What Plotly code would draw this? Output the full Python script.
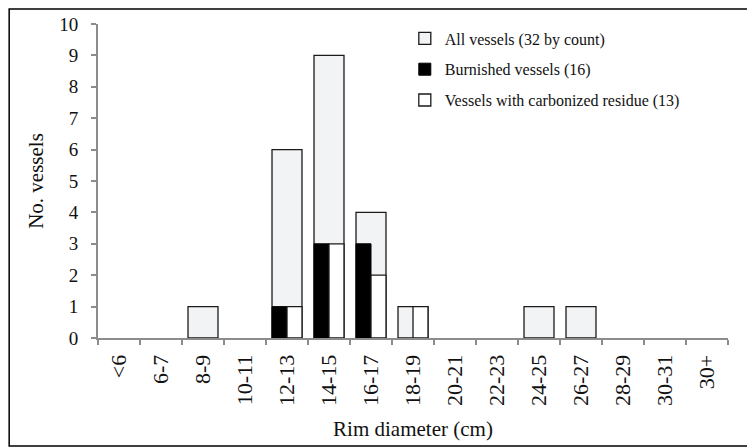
"""Rim diameter histogram of vessels, overlaid subgroup bars."""

import plotly.graph_objects as go

categories = ["<6", "6-7", "8-9", "10-11", "12-13", "14-15", "16-17", "18-19",
              "20-21", "22-23", "24-25", "26-27", "28-29", "30-31", "30+"]
all_vessels = [0, 0, 1, 0, 6, 9, 4, 1, 0, 0, 1, 1, 0, 0, 0]
burnished = [0, 0, 0, 0, 1, 3, 3, 0, 0, 0, 0, 0, 0, 0, 0]
carbonized = [0, 0, 0, 0, 1, 3, 2, 1, 0, 0, 0, 0, 0, 0, 0]

FONT = "Liberation Serif, Times New Roman, serif"
AXIS = "#8c8c8c"


def nz(values):
    return [v if v else None for v in values]


fig = go.Figure()
fig.add_trace(go.Bar(
    x=categories, y=nz(all_vessels), name="All vessels (32 by count)",
    width=0.714, offset=-0.357, legendgroup="a",
    marker=dict(color="#f2f3f5", line=dict(color="#1a1a1a", width=1.3)),
))
fig.add_trace(go.Bar(
    x=categories, y=nz(burnished), name="Burnished vessels (16)",
    width=0.357, offset=-0.357, legendgroup="b",
    marker=dict(color="#000000", line=dict(color="#000000", width=1)),
))
fig.add_trace(go.Bar(
    x=categories, y=nz(carbonized), name="Vessels with carbonized residue (13)",
    width=0.357, offset=0.0, legendgroup="c",
    marker=dict(color="#ffffff", line=dict(color="#1a1a1a", width=1.3)),
))

# the page body has an 8px margin, so the figure is a bit smaller than the window
fig.update_layout(
    width=747, height=440,
    margin=dict(l=90, r=27, t=16, b=110, autoexpand=False),
    barmode="overlay",
    plot_bgcolor="white", paper_bgcolor="white",
    font=dict(family=FONT, size=19, color="#111"),
    showlegend=True,
    legend=dict(
        x=0.487, y=1.008, xanchor="left", yanchor="top",
        bgcolor="rgba(0,0,0,0)", tracegroupgap=7, itemwidth=30,
        font=dict(family=FONT, size=16, color="#111"),
    ),
    xaxis=dict(
        type="category", tickson="boundaries", ticks="outside", ticklen=5,
        tickcolor=AXIS, tickwidth=2, showline=True, linecolor=AXIS, linewidth=2,
        tickangle=-90, showgrid=False, range=[-0.5, 14.5], automargin=False,
        tickfont=dict(family=FONT, size=22), ticklabelstandoff=6,
        title=dict(text="Rim diameter (cm)", font=dict(family=FONT, size=21), standoff=16),
    ),
    yaxis=dict(
        range=[0, 10], dtick=1, ticks="outside", ticklen=5, tickcolor=AXIS,
        tickwidth=2, showline=True, linecolor=AXIS, linewidth=2, showgrid=False,
        zeroline=False, automargin=False,
        tickfont=dict(family=FONT, size=19), ticklabelstandoff=9,
        title=dict(text="No. vessels", font=dict(family=FONT, size=21), standoff=10),
    ),
)

# Outer frame around the whole chart
fig.add_shape(type="rect", xref="paper", yref="paper",
              x0=-0.141, x1=1.0397, y0=-0.344, y1=1.048,
              line=dict(color="#000000", width=1.5), layer="below")

fig.write_html("out.html")
